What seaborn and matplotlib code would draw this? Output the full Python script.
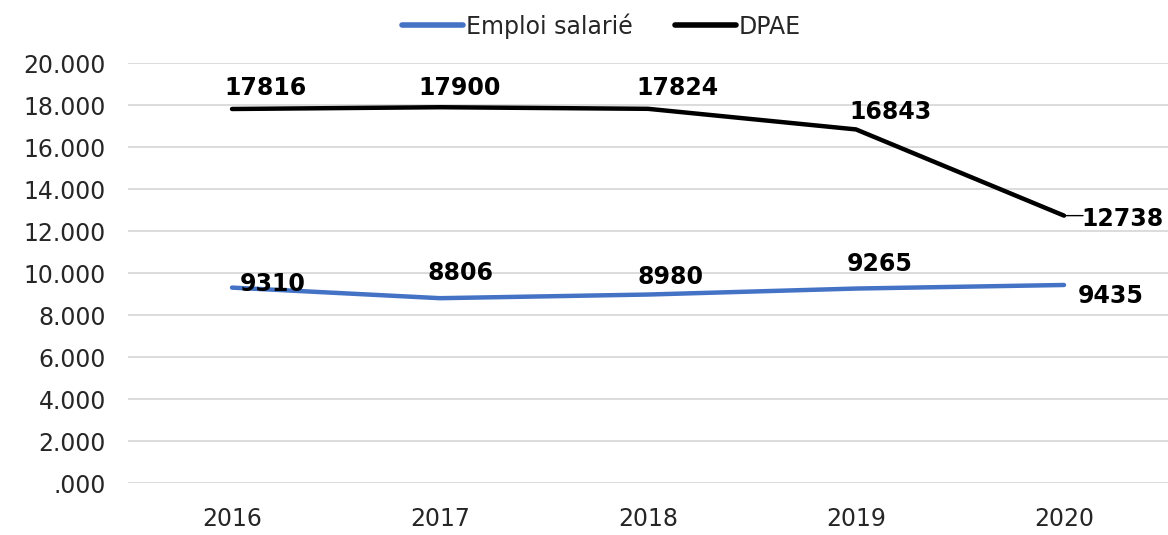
import matplotlib
matplotlib.use("Agg")
import matplotlib.pyplot as plt
import seaborn as sns
import pandas as pd
import numpy as np

years = ["2016", "2017", "2018", "2019", "2020"]
emploi = [9310, 8806, 8980, 9265, 9435]
dpae = [17816, 17900, 17824, 16843, 12738]
y_ticks = [0, 2000, 4000, 6000, 8000, 10000, 12000, 14000, 16000, 18000, 20000]
y_tick_labels = [".000", "2.000", "4.000", "6.000", "8.000", "10.000",
                 "12.000", "14.000", "16.000", "18.000", "20.000"]

df = pd.DataFrame({
    "pos": list(range(len(years))) * 2,
    "value": emploi + dpae,
    "serie": ["Emploi salarié"] * len(years) + ["DPAE"] * len(years),
})

sns.set_style("white")
plt.rcParams["font.family"] = ["DejaVu Sans"]

fig = plt.figure(figsize=(11.68, 5.35), dpi=100)
ax = fig.add_axes([0.1096, 0.097, 0.8904, 0.785])

sns.lineplot(data=df, x="pos", y="value", hue="serie",
             palette={"Emploi salarié": "#4472C4", "DPAE": "#000000"},
             linewidth=3.2, ax=ax, legend=False)

ax.set_xlim(-0.5, len(years) - 0.5)
ax.set_ylim(0, 20000)
ax.set_xticks(range(len(years)))
ax.set_xticklabels(years, fontsize=17, color="#262626")
ax.set_yticks(y_ticks)
ax.set_yticklabels(y_tick_labels, fontsize=17, color="#262626")
ax.tick_params(axis="both", length=0)
ax.tick_params(axis="x", pad=17)
ax.tick_params(axis="y", pad=16)
ax.grid(axis="y", color="#d9d9d9", linewidth=1.3)
ax.set_axisbelow(True)
for s in ax.spines.values():
    s.set_visible(False)
ax.set_xlabel("")
ax.set_ylabel("")

# data labels (offsets in pixels)
dpae_off = [(33, 21), (20, 19), (29, 21), (34, 17), (58, -3)]
emploi_off = [(41, 4), (20, 25), (22, 18), (24, 25), (47, -11)]
for i in range(len(years)):
    dx, dy = dpae_off[i]
    ax.annotate(str(dpae[i]), (i, dpae[i]), xytext=(dx, dy),
                textcoords="offset pixels", ha="center", va="center",
                fontsize=17, fontweight="bold", color="#000000")
    dx, dy = emploi_off[i]
    ax.annotate(str(emploi[i]), (i, emploi[i]), xytext=(dx, dy),
                textcoords="offset pixels", ha="center", va="center",
                fontsize=17, fontweight="bold", color="#000000")

# leader line for last DPAE label
ax.annotate("", (4, dpae[4]), xytext=(19, 0), textcoords="offset pixels",
            arrowprops=dict(arrowstyle="-", color="#000000", lw=1,
                            shrinkA=0, shrinkB=0))

handles = [plt.Line2D([], [], color="#4472C4", lw=4, solid_capstyle="round"),
           plt.Line2D([], [], color="#000000", lw=4, solid_capstyle="round")]
fig.legend(handles, ["Emploi salarié", "DPAE"], loc="upper center",
           bbox_to_anchor=(0.515, 1.015), ncol=2, frameon=False, fontsize=17,
           handlelength=2.6, handletextpad=0.1, columnspacing=1.8)

fig.savefig("out.png", dpi=100)
